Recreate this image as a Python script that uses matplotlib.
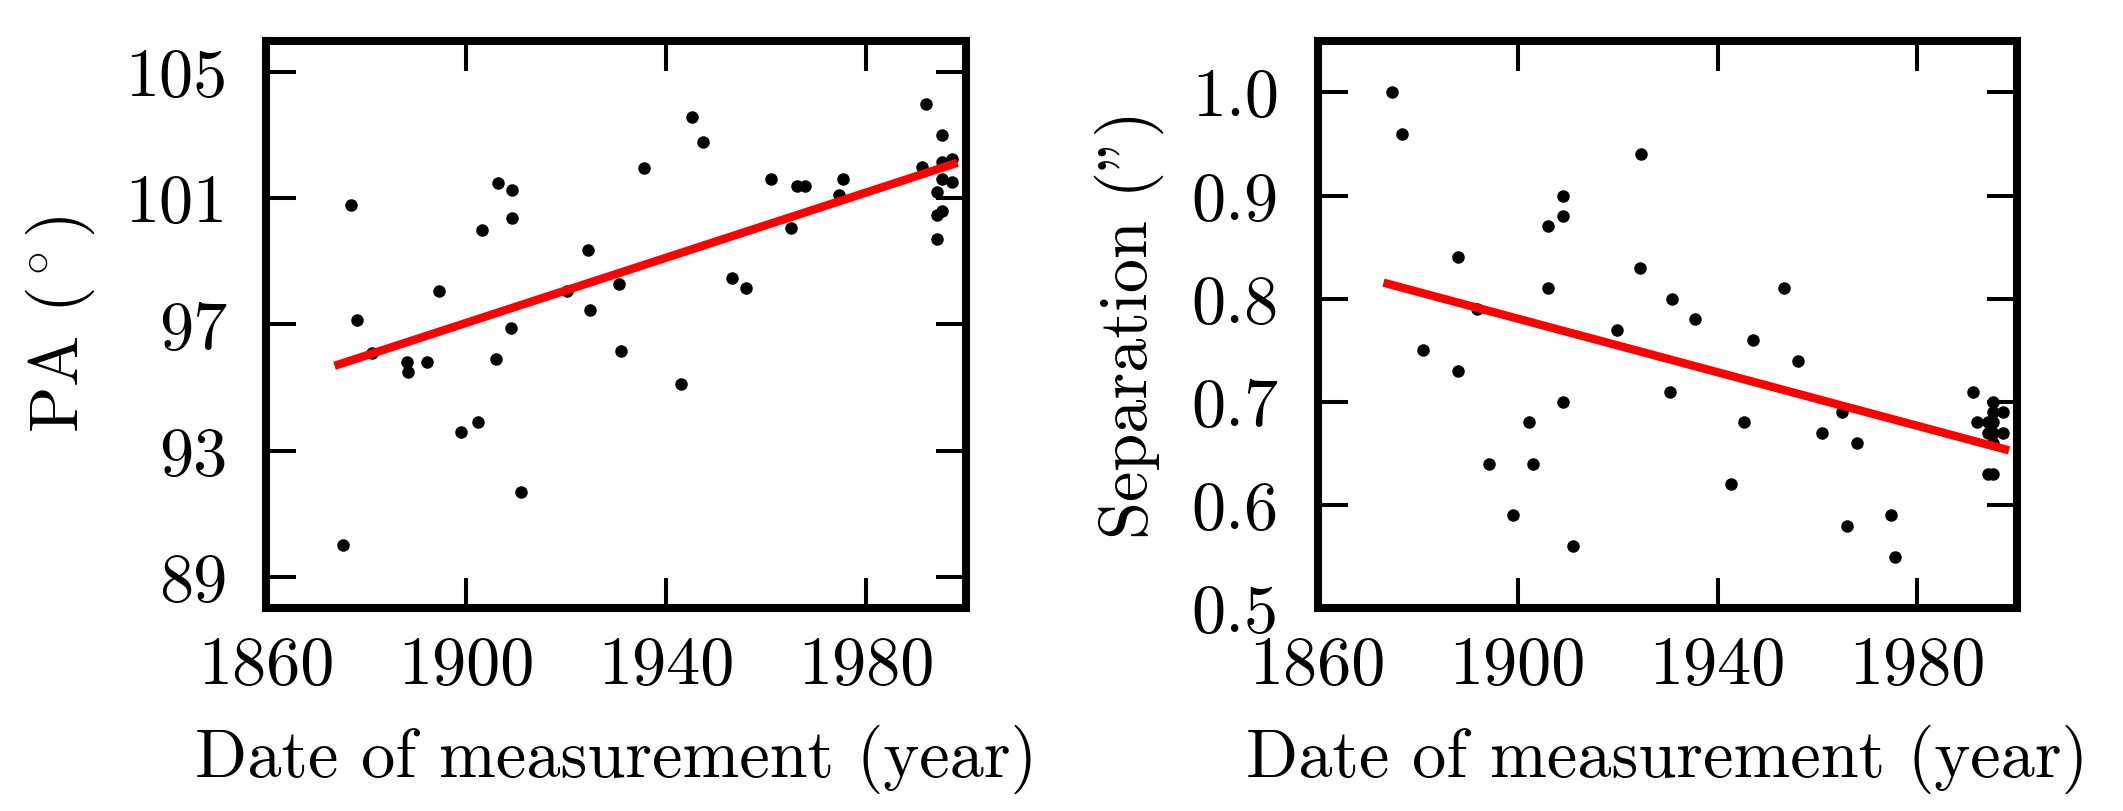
import matplotlib
matplotlib.use("Agg")
from matplotlib import pyplot as plt

# position angle measurements
years_pa = [1875.4, 1877.0, 1878.1, 1881.1, 1888.1, 1888.3, 1892.1, 1894.6,
            1899.1, 1902.5, 1903.2, 1906.1, 1906.5, 1909.2, 1909.2, 1909.1,
            1911.1, 1920.2, 1924.5, 1924.9, 1930.7, 1931.0, 1935.6, 1943.0,
            1945.3, 1947.4, 1953.2, 1956.0, 1961.0, 1965.1, 1966.3, 1967.9,
            1974.7, 1975.4, 1991.3, 1992.0, 1994.3, 1994.3, 1994.3, 1995.2,
            1995.2, 1995.2, 1995.3, 1997.3, 1997.3]
pa = [90.0, 100.8, 97.14, 96.09, 95.80, 95.49, 95.80, 98.07,
      93.58, 93.90, 99.99, 95.90, 101.5, 101.27, 100.38, 96.88,
      91.68, 98.07, 99.37, 97.47, 98.29, 96.17, 101.97, 95.11,
      103.58, 102.79, 98.48, 98.17, 101.6, 100.07, 101.38, 101.38,
      101.1, 101.6, 102.0, 103.99, 101.21, 100.47, 99.70, 103.01,
      102.16, 101.6, 100.6, 102.24, 101.51]
pa_fit_years = [1874.5, 1997.5]
pa_fit = [95.73, 102.09]

# separation measurements
years_sep = [1874.9, 1876.8, 1881.0, 1888.1, 1888.1, 1891.9, 1894.3, 1899.1,
             1902.3, 1903.0, 1906.1, 1906.1, 1909.0, 1909.0, 1909.0, 1911.1,
             1919.9, 1924.4, 1924.7, 1930.5, 1930.8, 1935.4, 1942.7, 1945.3,
             1947.1, 1953.2, 1956.1, 1960.9, 1965.0, 1966.0, 1967.9, 1974.7,
             1975.5, 1991.2, 1992.0, 1994.2, 1994.2, 1994.2, 1995.2, 1995.2,
             1995.2, 1995.2, 1995.2, 1995.2, 1997.2, 1997.2]
sep = [1.00, 0.96, 0.75, 0.84, 0.73, 0.79, 0.64, 0.59,
       0.68, 0.64, 0.87, 0.81, 0.90, 0.88, 0.70, 0.56,
       0.77, 0.83, 0.94, 0.71, 0.80, 0.78, 0.62, 0.68,
       0.76, 0.81, 0.74, 0.67, 0.69, 0.58, 0.66, 0.59,
       0.55, 0.71, 0.68, 0.68, 0.67, 0.63, 0.70, 0.69,
       0.68, 0.67, 0.66, 0.63, 0.69, 0.67]
sep_fit_years = [1874.0, 1997.5]
sep_fit = [0.8145, 0.654]

xticks = [1860, 1900, 1940, 1980]
pa_ticks = [89, 93, 97, 101, 105]
sep_ticks = [0.5, 0.6, 0.7, 0.8, 0.9, 1.0]

plt.rcParams["font.family"] = "cmr10"
plt.rcParams["mathtext.fontset"] = "cm"
plt.rcParams["axes.unicode_minus"] = False
plt.rcParams["axes.formatter.use_mathtext"] = False
plt.rcParams["font.size"] = 24.6

fig = plt.figure(figsize=(10.615, 4.055), dpi=200)
ax1 = fig.add_axes([0.1253, 0.2501, 0.3297, 0.6996])
ax2 = fig.add_axes([0.6206, 0.2501, 0.3297, 0.6996])


def style(ax):
    for s in ax.spines.values():
        s.set_linewidth(2.9)
    ax.tick_params(direction="in", length=10.8, width=1.45,
                   top=True, right=True)
    ax.tick_params(axis="x", pad=10)
    ax.tick_params(axis="y", pad=14)
    ax.set_xlim(1860, 2000)
    ax.set_xticks(xticks)
    ax.set_xlabel("Date of measurement (year)", labelpad=10)


ax1.plot(years_pa, pa, "o", color="black", markersize=4.5, markeredgewidth=0)
ax1.plot(pa_fit_years, pa_fit, color="red", linewidth=3.0)
ax1.set_ylim(88, 106)
ax1.set_yticks(pa_ticks)
ax1.set_ylabel(r"PA ($^\circ$)", labelpad=10)
style(ax1)

ax2.plot(years_sep, sep, "o", color="black", markersize=4.5, markeredgewidth=0)
ax2.plot(sep_fit_years, sep_fit, color="red", linewidth=3.0)
ax2.set_ylim(0.5, 1.05)
ax2.set_yticks(sep_ticks)
ax2.set_yticklabels([f"{t:.1f}" for t in sep_ticks])
ax2.set_ylabel('Separation (")', labelpad=10)
style(ax2)

fig.savefig("out.png", dpi=200)
